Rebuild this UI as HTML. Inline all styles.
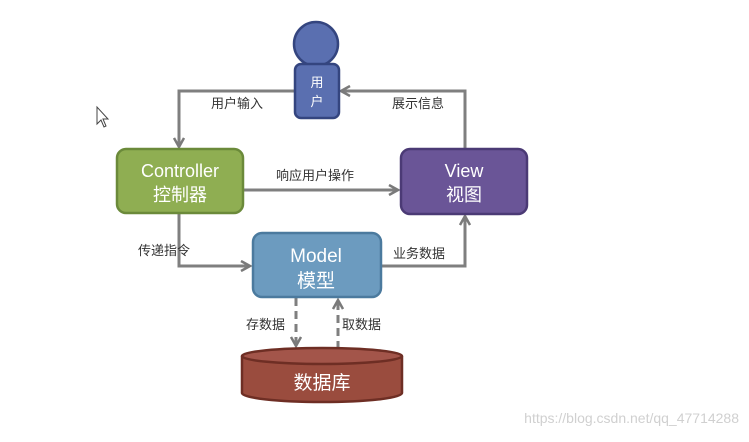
<!DOCTYPE html>
<html><head><meta charset="utf-8"><style>
html,body{margin:0;padding:0;background:#fff;}
svg text{font-family:"Liberation Sans","Noto Sans CJK SC",sans-serif;}
</style></head><body>
<svg width="749" height="437" viewBox="0 0 749 437" xmlns="http://www.w3.org/2000/svg">
<defs>
<marker id="a" markerWidth="12" markerHeight="12" refX="10" refY="6" orient="auto" markerUnits="userSpaceOnUse">
<path d="M1,1 L10,6 L1,11" fill="none" stroke="#7a7a7a" stroke-width="2.5"/>
</marker>
</defs>
<g stroke="#7f7f7f" stroke-width="3" fill="none">
<polyline points="294,91 179,91 179,147" marker-end="url(#a)"/>
<polyline points="465,149 465,91 341,91" marker-end="url(#a)"/>
<line x1="243" y1="190" x2="398" y2="190" marker-end="url(#a)"/>
<polyline points="179,213 179,266 250,266" marker-end="url(#a)"/>
<polyline points="381,266 465,266 465,216" marker-end="url(#a)"/>
<line x1="296" y1="298" x2="296" y2="346" stroke-dasharray="8,5" marker-end="url(#a)"/>
<line x1="338" y1="349" x2="338" y2="300" stroke-dasharray="8,5" marker-end="url(#a)"/>
</g>
<circle cx="316" cy="44" r="22" fill="#5a6fb0" stroke="#34457f" stroke-width="2.5"/>
<rect x="295" y="64" width="44" height="54" rx="6" fill="#5a6fb0" stroke="#34457f" stroke-width="2.5"/>
<text x="317" y="87" font-size="13" fill="#fff" text-anchor="middle">用</text>
<text x="317" y="106" font-size="13" fill="#fff" text-anchor="middle">户</text>
<rect x="117" y="149" width="126" height="64" rx="9" fill="#8fae52" stroke="#6b8a3a" stroke-width="2.5"/>
<text x="180" y="177" font-size="18" fill="#fff" text-anchor="middle">Controller</text>
<text x="180" y="201" font-size="18" fill="#fff" text-anchor="middle">控制器</text>
<rect x="401" y="149" width="126" height="65" rx="9" fill="#6a5597" stroke="#4b3a75" stroke-width="2.5"/>
<text x="464" y="177" font-size="18" fill="#fff" text-anchor="middle">View</text>
<text x="464" y="201" font-size="18" fill="#fff" text-anchor="middle">视图</text>
<rect x="253" y="233" width="128" height="64" rx="9" fill="#6c9bbf" stroke="#4b7a9e" stroke-width="2.5"/>
<text x="316" y="262" font-size="19" fill="#fff" text-anchor="middle">Model</text>
<text x="316" y="287" font-size="19" fill="#fff" text-anchor="middle">模型</text>
<path d="M242,356 L242,393 A80,9 0 0 0 402,393 L402,356" fill="#9a4c3e" stroke="#6e2e24" stroke-width="2.5"/>
<ellipse cx="322" cy="356" rx="80" ry="8" fill="#a3554a" stroke="#6e2e24" stroke-width="2.5"/>
<text x="322" y="389" font-size="19" fill="#fff" text-anchor="middle">数据库</text>
<g font-size="13" fill="#333">
<text x="211" y="108">用户输入</text>
<text x="392" y="108">展示信息</text>
<text x="276" y="180">响应用户操作</text>
<text x="138" y="255">传递指令</text>
<text x="393" y="258">业务数据</text>
<text x="246" y="329">存数据</text>
<text x="342" y="329">取数据</text>
</g>
<text x="739" y="423" font-size="14" fill="#d0d0d0" text-anchor="end">https://blog.csdn.net/qq_47714288</text>
<path d="M97,107 L97,124 L101,120 L104,127 L106,126 L103,119 L108,119 Z" fill="#fff" stroke="#444" stroke-width="1"/>
</svg>
</body></html>
